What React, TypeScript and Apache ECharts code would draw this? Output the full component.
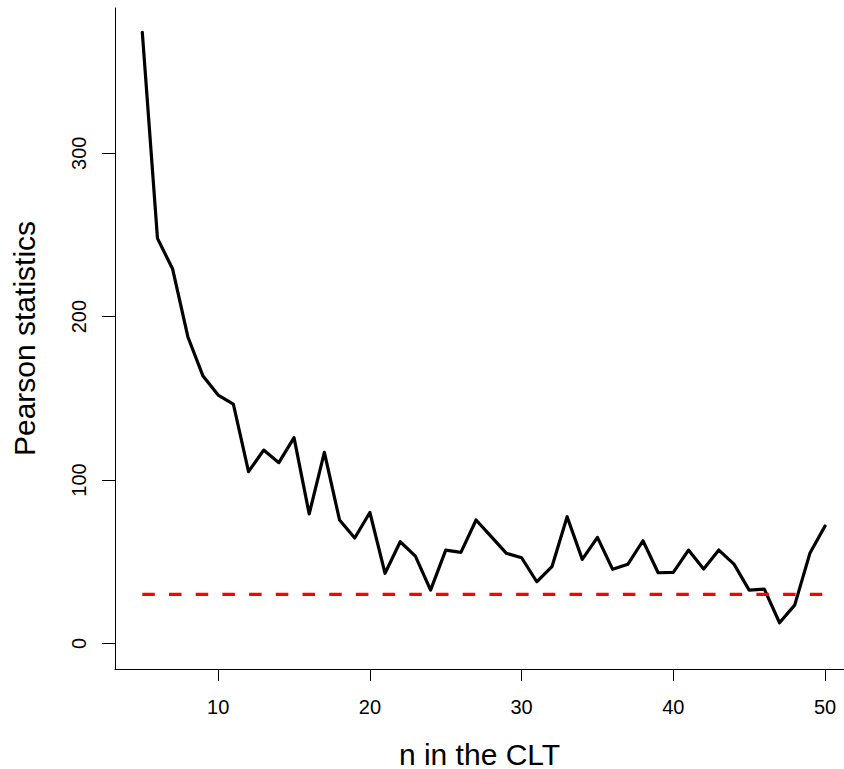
import React, { useEffect, useRef } from "react";
import * as echarts from "echarts";

const nValues = [5,6,7,8,9,10,11,12,13,14,15,16,17,18,19,20,21,22,23,24,25,26,27,28,29,30,31,32,33,34,35,36,37,38,39,40,41,42,43,44,45,46,47,48,49,50];
const pearson = [374.0,247.9,229.1,187.7,163.6,152.0,146.5,105.1,118.3,110.6,125.9,79.2,116.9,75.5,64.5,80.1,42.9,62.2,53.4,32.6,57.1,55.7,75.5,65.3,55.1,52.4,37.7,46.9,77.5,51.4,64.9,45.3,48.4,62.8,43.2,43.5,57.1,45.5,57.1,48.5,32.6,33.2,12.6,23.4,55.1,71.8];
const threshold = 30;
const xTicks = [10, 20, 30, 40, 50];
const yTicks = [0, 100, 200, 300];

export default function App() {
  const ref = useRef<HTMLDivElement>(null);
  useEffect(() => {
    if (!ref.current) return;
    const chart = echarts.init(ref.current, null, { renderer: "svg" });
    const font = "'Liberation Sans', Arial, Helvetica, sans-serif";
    chart.setOption({
      animation: false,
      backgroundColor: "#ffffff",
      grid: { left: 115, right: 0, top: 8, bottom: 100, containLabel: false, outerBoundsMode: "none" },
      xAxis: {
        type: "value",
        min: 3.2,
        max: 51.25,
        name: "n in the CLT",
        nameLocation: "middle",
        nameGap: 70,
        nameTextStyle: { fontSize: 30, color: "#000", fontFamily: font },
        axisLine: { show: true, onZero: false, lineStyle: { color: "#000", width: 1 } },
        axisTick: { show: true, length: 12, customValues: xTicks, lineStyle: { color: "#000", width: 1 } },
        axisLabel: { customValues: xTicks, fontSize: 20, color: "#000", fontFamily: font, margin: 28 },
        splitLine: { show: false },
      },
      yAxis: {
        type: "value",
        min: -15.7,
        max: 388.9,
        name: "Pearson statistics",
        nameLocation: "middle",
        nameGap: 76,
        nameRotate: 90,
        nameTextStyle: { fontSize: 30, color: "#000", fontFamily: font },
        axisLine: { show: true, onZero: false, lineStyle: { color: "#000", width: 1 } },
        axisTick: { show: true, length: 13, customValues: yTicks, lineStyle: { color: "#000", width: 1 } },
        axisLabel: {
          customValues: yTicks,
          rotate: 90,
          align: "center",
          verticalAlign: "bottom",
          fontSize: 20,
          color: "#000",
          fontFamily: font,
          margin: 26,
        },
        splitLine: { show: false },
      },
      series: [
        {
          type: "line",
          data: nValues.map((n, i) => [n, pearson[i]]),
          showSymbol: false,
          symbol: "none",
          lineStyle: { color: "#000", width: 3.2, cap: "round", join: "round" },
          z: 2,
        },
        {
          type: "line",
          data: [[nValues[0], threshold], [nValues[nValues.length - 1], threshold]],
          showSymbol: false,
          symbol: "none",
          lineStyle: { color: "#ff0000", width: 3.2, type: [12.5, 14.2], cap: "butt" },
          z: 3,
        },
      ],
    });
    return () => chart.dispose();
  }, []);
  return <div ref={ref} style={{ width: 844, height: 769, position: "absolute", left: 0, top: 0 }} />;
}
